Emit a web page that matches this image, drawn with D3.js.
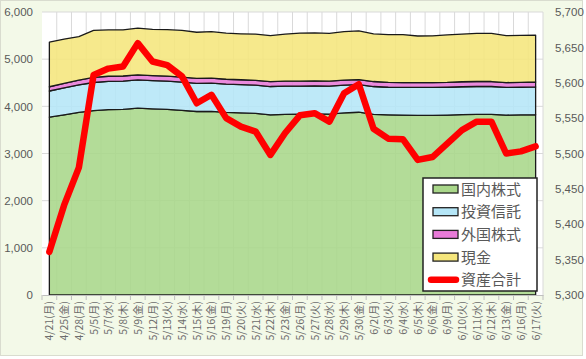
<!DOCTYPE html>
<html>
<head>
<meta charset="utf-8">
<script src="https://cdn.jsdelivr.net/npm/d3@7"></script>
<style>
  body { margin: 0; background: #fff; }
  svg { display: block; font-family: "Noto Sans CJK JP", "Noto Sans", sans-serif; }
</style>
</head>
<body>
<script>
const dates = ['4/21(月)', '4/25(金)', '4/28(月)', '5/5(月)', '5/7(水)', '5/8(木)', '5/9(金)',
  '5/12(月)', '5/13(火)', '5/14(水)', '5/15(木)', '5/16(金)', '5/19(月)', '5/20(火)', '5/21(水)',
  '5/22(木)', '5/23(金)', '5/26(月)', '5/27(火)', '5/28(水)', '5/29(木)', '5/30(金)', '6/2(月)',
  '6/3(火)', '6/4(水)', '6/5(木)', '6/6(金)', '6/9(月)', '6/10(火)', '6/11(水)', '6/12(木)',
  '6/13(金)', '6/16(月)', '6/17(火)'];

const domestic = [3770, 3820, 3870, 3910, 3930, 3935, 3960, 3945, 3935, 3915, 3890, 3895, 3870, 3860, 3850,
  3820, 3830, 3835, 3840, 3835, 3860, 3875, 3830, 3820, 3815, 3810, 3810, 3815, 3825, 3830, 3830, 3815, 3820, 3822];
const funds = [555, 570, 585, 595, 600, 600, 600, 600, 600, 600, 598, 598, 600, 600, 598,
  600, 600, 595, 595, 595, 590, 585, 590, 585, 585, 590, 590, 590, 590, 590, 590, 585, 585, 590];
const foreign = [90, 95, 100, 108, 108, 108, 108, 108, 106, 106, 104, 104, 104, 104, 104,
  104, 104, 104, 104, 104, 106, 108, 106, 104, 104, 104, 104, 104, 106, 106, 106, 104, 104, 104];
const cash = [946, 942, 925, 998, 982, 980, 988, 977, 984, 988, 979, 986, 976, 974, 979,
  974, 995, 1020, 1018, 1011, 1029, 1030, 1009, 1012, 1016, 987, 991, 1005, 1012, 1019, 1019, 996, 994, 994];
const total = [5361, 5427, 5480, 5611, 5620, 5623, 5656, 5630, 5625, 5609, 5571, 5583, 5550, 5538, 5531,
  5498, 5529, 5554, 5557, 5545, 5585, 5598, 5535, 5521, 5520, 5491, 5495, 5514, 5533, 5545, 5545, 5500, 5503, 5510];

const leftTicks = [0, 1000, 2000, 3000, 4000, 5000, 6000];
const rightTicks = [5300, 5350, 5400, 5450, 5500, 5550, 5600, 5650, 5700];

const seriesNames = ['国内株式', '投資信託', '外国株式', '現金'];
const seriesColors = ['#a9d78a', '#b5e6f7', '#e87ad8', '#f5e67c'];

const w = 586, h = 359;
const plotLeft = 42, plotRight = 543, plotTop = 12, plotBottom = 295;

const rows = dates.map((d, i) => ({ date: d, '国内株式': domestic[i], '投資信託': funds[i], '外国株式': foreign[i], '現金': cash[i] }));
const stacked = d3.stack().keys(seriesNames)(rows);

const x = d3.scaleBand().domain(dates).range([plotLeft, plotRight]);
const cx = (d) => x(d) + x.bandwidth() / 2;
const y = d3.scaleLinear().domain([0, 6000]).range([plotBottom, plotTop]);
const y2 = d3.scaleLinear().domain([5300, 5700]).range([plotBottom, plotTop]);

const svg = d3.select('body').append('svg').attr('width', w).attr('height', h);

svg.append('rect').attr('x', 0.5).attr('y', 0.5).attr('width', w - 4).attr('height', h - 4)
   .style('fill', '#f3f9e8').style('stroke', '#d9dccf');

svg.append('rect').attr('x', plotLeft).attr('y', plotTop).attr('width', plotRight - plotLeft).attr('height', plotBottom - plotTop)
   .style('fill', '#ffffff');

// grid
svg.append('g').selectAll('line').data(leftTicks.slice(1)).enter().append('line')
   .attr('x1', plotLeft).attr('x2', plotRight).attr('y1', (d) => y(d)).attr('y2', (d) => y(d))
   .style('stroke', '#d9d9d9');
svg.append('g').selectAll('line').data(dates).enter().append('line')
   .attr('x1', (d) => x(d) + x.bandwidth()).attr('x2', (d) => x(d) + x.bandwidth())
   .attr('y1', plotTop).attr('y2', plotBottom)
   .style('stroke', '#d9d9d9');

const area = d3.area()
  .x((d) => cx(d.data.date))
  .y0((d) => y(d[0]))
  .y1((d) => y(d[1]));

svg.append('g').selectAll('path').data(stacked).enter().append('path')
   .attr('d', area)
   .style('fill', (d, i) => seriesColors[i])
   .style('fill-opacity', 0.88)
   .style('stroke', '#1a1a1a')
   .style('stroke-width', 1.3)
   .style('stroke-linejoin', 'round');

// x axis
const xAxis = d3.axisBottom(x).tickSize(0).tickFormat(() => '');
svg.append('g').attr('id', 'x-axis').attr('transform', 'translate(0,' + plotBottom + ')').call(xAxis)
   .call((g) => g.select('.domain').style('stroke', '#bfbfbf'));
svg.append('g').selectAll('line').data(dates).enter().append('line')
   .attr('x1', (d) => x(d)).attr('x2', (d) => x(d))
   .attr('y1', plotBottom).attr('y2', plotBottom + 5).style('stroke', '#bfbfbf');
svg.append('line').attr('x1', plotRight).attr('x2', plotRight)
   .attr('y1', plotBottom).attr('y2', plotBottom + 5).style('stroke', '#bfbfbf');

svg.append('g').selectAll('text').data(dates).enter().append('text')
   .text((d) => d)
   .attr('transform', (d) => 'translate(' + (cx(d) + 4) + ',' + (plotBottom + 6) + ')rotate(-90)')
   .attr('text-anchor', 'end')
   .style('font-size', '10.6px')
   .style('fill', '#6b6b6b');

// y axes
const yAxis = d3.axisLeft(y).tickValues(leftTicks).tickSize(0).tickPadding(9).tickFormat(d3.format(','));
svg.append('g').attr('id', 'y-axis').attr('transform', 'translate(' + plotLeft + ',0)').call(yAxis)
   .call((g) => g.select('.domain').remove())
   .call((g) => g.selectAll('text').style('font-size', '11.5px').style('fill', '#595959')
     .style('font-family', '"Liberation Sans", Arial, sans-serif'));

const yAxis2 = d3.axisRight(y2).tickValues(rightTicks).tickSize(0).tickPadding(12).tickFormat(d3.format(','));
svg.append('g').attr('id', 'y-axis-2').attr('transform', 'translate(' + plotRight + ',0)').call(yAxis2)
   .call((g) => g.select('.domain').remove())
   .call((g) => g.selectAll('text').style('font-size', '11.5px').style('fill', '#595959')
     .style('font-family', '"Liberation Sans", Arial, sans-serif'));

// total line
const line = d3.line().x((d, i) => cx(dates[i])).y((d) => y2(d));
svg.append('path').datum(total).attr('d', line)
   .style('fill', 'none').style('stroke', '#ff0000').style('stroke-width', 6.5)
   .style('stroke-linejoin', 'round').style('stroke-linecap', 'round');

// legend
const lg = svg.append('g').attr('transform', 'translate(423,178)');
lg.append('rect').attr('width', 114).attr('height', 113)
  .style('fill', '#ffffff').style('stroke', '#222').style('stroke-width', 1.5);
seriesNames.forEach((name, i) => {
  const ly = 11 + i * 22.7;
  lg.append('rect').attr('x', 10).attr('y', ly - 4).attr('width', 25).attr('height', 8)
    .style('fill', seriesColors[i]).style('stroke', '#222').style('stroke-width', 1.3);
  lg.append('text').text(name).attr('x', 38).attr('y', ly + 5.5)
    .style('font-size', '15px').style('fill', '#595959');
});
const ly5 = 11 + 4 * 22.7;
lg.append('line').attr('x1', 8).attr('x2', 33).attr('y1', ly5).attr('y2', ly5)
  .style('stroke', '#ff0000').style('stroke-width', 6.5).style('stroke-linecap', 'round');
lg.append('text').text('資産合計').attr('x', 38).attr('y', ly5 + 5.5)
  .style('font-size', '15px').style('fill', '#595959');
</script>
</body>
</html>
